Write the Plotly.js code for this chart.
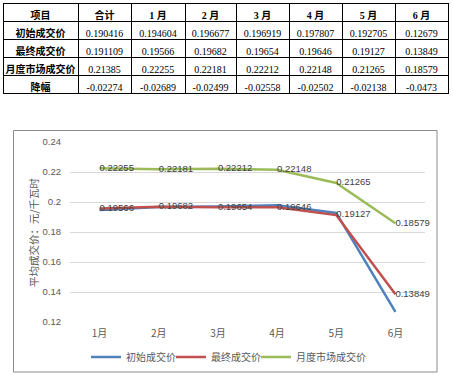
<!DOCTYPE html>
<html><head><meta charset="utf-8">
<script src="https://cdn.plot.ly/plotly-3.0.1.min.js"></script>
<style>html,body{margin:0;padding:0;background:#fff}</style>
</head><body>
<div id="chart" style="width:453px;height:375px"></div>
<script>
const months = ['1月','2月','3月','4月','5月','6月'];
const rowNames = ['初始成交价','最终成交价','月度市场成交价','降幅'];
const totals = [0.190416, 0.191109, 0.21385, -0.02274];
const initialPrice = [0.194604, 0.196677, 0.196919, 0.197807, 0.192705, 0.12679];
const finalPrice = [0.19566, 0.19682, 0.19654, 0.19646, 0.19127, 0.13849];
const marketPrice = [0.22255, 0.22181, 0.22212, 0.22148, 0.21265, 0.18579];
const decline = [-0.02689, -0.02499, -0.02558, -0.02502, -0.02138, -0.0473];
const yTicks = [0.12, 0.14, 0.16, 0.18, 0.2, 0.22, 0.24];

const W = 453, H = 375;
const px = v => v / W, py = v => 1 - v / H;

const rows = [initialPrice, finalPrice, marketPrice, decline];
const headerVals = ['项目', '合计'].concat(months.map(m => m.replace('月', '\u00a0月')));
const cellCols = [rowNames, totals.map(String)];
for (let i = 0; i < months.length; i++) cellCols.push(rows.map(r => String(r[i])));

const tableFamily = 'Liberation Serif, Noto Sans CJK SC, serif';
const table = {
  type: 'table',
  domain: {x: [px(3), px(448)], y: [py(96), py(3)]},
  columnwidth: [75, 53, 54, 51, 53, 53, 53, 53],
  header: {values: headerVals, align: 'center', height: 18,
    line: {color: '#000', width: 1}, fill: {color: '#fff'},
    font: {family: tableFamily, size: 10, color: '#000', weight: 'bold'}},
  cells: {values: cellCols, align: 'center', height: 18,
    line: {color: '#000', width: 1}, fill: {color: '#fff'},
    font: {family: tableFamily, size: 10, color: '#000',
      weight: cellCols.map((c, i) => i === 0 ? 'bold' : 'normal')}}
};

const labelFont = {family: 'Liberation Sans, Arial, sans-serif', size: 9.5, color: '#404040'};
const series = [
  {name: '初始成交价', y: initialPrice, color: '#4F81BD', labels: false, legend: 'legend'},
  {name: '最终成交价', y: finalPrice, color: '#C0504D', labels: true, legend: 'legend2'},
  {name: '月度市场成交价', y: marketPrice, color: '#9BBB59', labels: true, legend: 'legend3'}
];
const traces = series.map(s => ({
  type: 'scatter', x: months, y: s.y, name: s.name, legend: s.legend,
  mode: s.labels ? 'lines+text' : 'lines',
  text: s.labels ? s.y.map(String) : undefined,
  textposition: 'middle right', textfont: labelFont, cliponaxis: false,
  line: {color: s.color, width: 2.5},
  hoverinfo: 'skip', xaxis: 'x', yaxis: 'y'
}));

const tickFont = {family: 'Liberation Sans, Arial, sans-serif', size: 9.5, color: '#595959'};
const legendBase = {orientation: 'h', xanchor: 'left', y: py(357), yanchor: 'middle',
  font: {family: 'Noto Sans CJK SC, serif', size: 10, color: '#595959'},
  bgcolor: 'rgba(0,0,0,0)'};
const layout = {
  width: W, height: H,
  margin: {l: 0, r: 0, t: 0, b: 0},
  paper_bgcolor: '#fff', plot_bgcolor: 'rgba(0,0,0,0)',
  showlegend: true,
  xaxis: {type: 'category', categoryorder: 'array', categoryarray: months,
    domain: [px(70), px(425)], anchor: 'y', range: [-0.5, 5.5],
    showgrid: false, showline: false, zeroline: false, ticks: '',
    tickfont: {family: 'Noto Sans CJK SC, sans-serif', size: 10, color: '#595959'},
    ticklabelstandoff: 4, fixedrange: true},
  yaxis: {domain: [py(322), py(142)], anchor: 'x', range: [0.12, 0.24],
    tickvals: yTicks, showgrid: true, gridcolor: '#d9d9d9', gridwidth: 1,
    showline: false, zeroline: false, ticks: '', tickfont: tickFont,
    ticklabelstandoff: 8, fixedrange: true},
  legend: Object.assign({}, legendBase, {x: px(86)}),
  legend2: Object.assign({}, legendBase, {x: px(171)}),
  legend3: Object.assign({}, legendBase, {x: px(256)}),
  shapes: [{type: 'rect', xref: 'paper', yref: 'paper',
    x0: px(13.5), x1: px(437), y0: py(372), y1: py(130.5),
    line: {color: '#8c8c8c', width: 1}, fillcolor: 'rgba(0,0,0,0)', layer: 'below'}],
  annotations: [{xref: 'paper', yref: 'paper', x: px(33), y: py(232),
    xanchor: 'center', yanchor: 'middle',
    text: '平均成交价：元/千瓦时', textangle: -90, showarrow: false,
    font: {family: 'Noto Sans CJK SC, serif', size: 10.5, color: '#595959'}}]
};

Plotly.newPlot('chart', [table].concat(traces), layout, {displayModeBar: false, staticPlot: true});
</script>
</body></html>
